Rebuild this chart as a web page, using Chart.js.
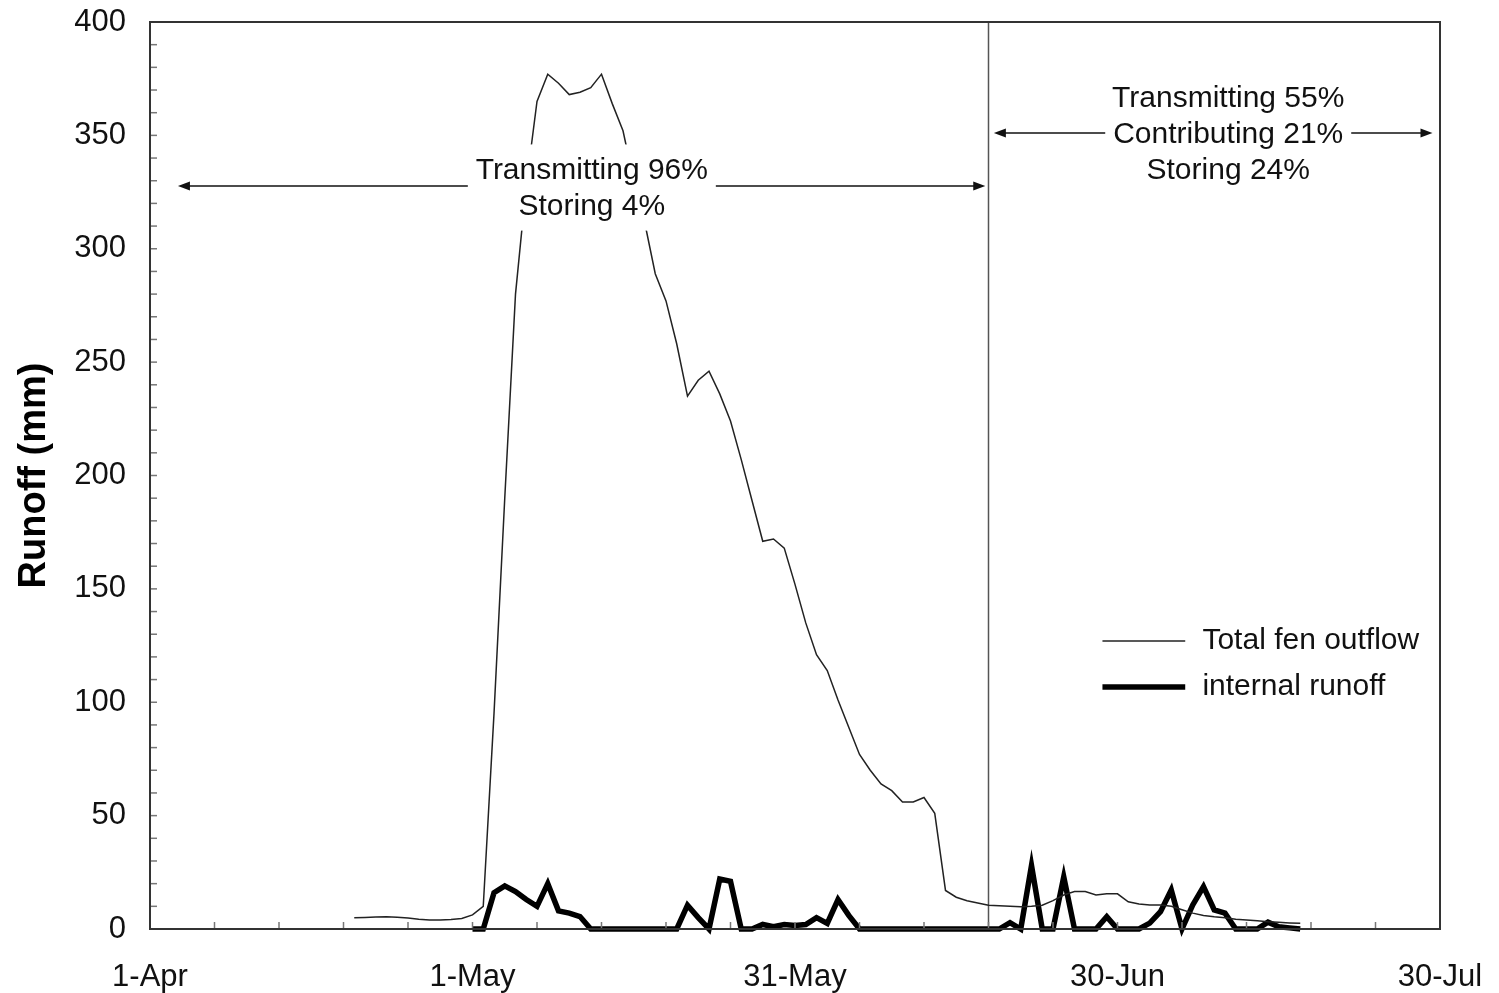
<!DOCTYPE html>
<html>
<head>
<meta charset="utf-8">
<script src="https://cdn.jsdelivr.net/npm/chart.js@4.4.1/dist/chart.umd.min.js"></script>
<style>
  html, body { margin: 0; padding: 0; background: #fff; }
  #wrap { width: 1499px; height: 993px; }
</style>
</head>
<body>
<div id="wrap"><canvas id="runoffChart" width="1499" height="993"></canvas></div>
<script>
// days counted from 1-Apr (day 0)
const axisDays = [0, 30, 60, 90, 120];
const axisLabels = ["1-Apr", "1-May", "31-May", "30-Jun", "30-Jul"];

// Total fen outflow, daily from day 19 (20-Apr) to day 107
const outflowStart = 19;
const outflow = [
  5.0, 5.1, 5.3, 5.4, 5.2, 4.8, 4.3, 4.0, 4.0, 4.2,
  4.6, 6.2, 10, 95, 190, 280, 328, 365, 377, 373,
  368, 369, 371, 377, 364, 352, 330, 312, 289, 277,
  258, 235, 242, 246, 236, 224, 207, 189, 171, 172,
  168, 152, 135, 121, 114, 101, 89, 77, 70, 64,
  61, 56, 56, 58, 51, 17, 14, 12.5, 11.5, 10.5,
  10.3, 10, 9.8, 10, 10.5, 12.5, 15, 16.5, 16.5, 15,
  15.5, 15.5, 12, 11, 10.6, 10.6, 10, 8.5, 7, 6,
  5.4, 5, 4.3, 4, 3.6, 3.2, 3, 2.7, 2.5,
];

// internal runoff, daily from day 30 (1-May) to day 107
const internalStart = 30;
const internal = [
  0, 0, 16, 19, 16.5, 13, 10, 20, 8, 7,
  5.5, 0, 0, 0, 0, 0, 0, 0, 0, 0,
  10.5, 5, 0, 22, 21, 0, 0, 2, 1, 2,
  1.5, 2, 5, 2.5, 13, 6, 0, 0, 0, 0,
  0, 0, 0, 0, 0, 0, 0, 0, 0, 0,
  2.8, 0, 28, 0, 0, 23, 0, 0, 0, 5.4,
  0, 0, 0, 2.6, 7.6, 17.2, 0, 10.6, 18.7, 8.4,
  7, 0, 0, 0, 3, 1, 0.5, 0,
];

const splitDay = 78; // 18-Jun

const leftNotes = ["Transmitting 96%", "Storing 4%"];
const rightNotes = ["Transmitting 55%", "Contributing 21%", "Storing 24%"];
const seriesNames = ["Total fen outflow", "internal runoff"];

const FONT = "'Liberation Sans', Arial, Helvetica, sans-serif";

const toPoints = (start, values) =>
  values.map((v, i) => ({ x: start + i, y: v }));

const annotationPlugin = {
  id: "fenAnnotations",
  beforeDatasetsDraw(chart) {
    const { ctx, chartArea, scales } = chart;
    const x = scales.x.getPixelForValue(splitDay);
    ctx.save();
    ctx.strokeStyle = "#555";
    ctx.lineWidth = 1.5;
    ctx.beginPath();
    ctx.moveTo(x, chartArea.top);
    ctx.lineTo(x, chartArea.bottom);
    ctx.stroke();
    ctx.restore();
  },
  afterDatasetsDraw(chart) {
    const { ctx, chartArea, scales } = chart;
    const xs = scales.x;
    const ys = scales.y;

    const arrow = (d0, d1, val) => {
      const x0 = xs.getPixelForValue(d0);
      const x1 = xs.getPixelForValue(d1);
      const y = ys.getPixelForValue(val);
      ctx.strokeStyle = "#111";
      ctx.fillStyle = "#111";
      ctx.lineWidth = 1.5;
      ctx.beginPath();
      ctx.moveTo(x0 + 8, y);
      ctx.lineTo(x1 - 8, y);
      ctx.stroke();
      [[x0, 1], [x1, -1]].forEach(([px, dir]) => {
        ctx.beginPath();
        ctx.moveTo(px, y);
        ctx.lineTo(px + dir * 12, y - 4.5);
        ctx.lineTo(px + dir * 12, y + 4.5);
        ctx.closePath();
        ctx.fill();
      });
    };

    const noteBox = (dayCenter, halfWidth, topVal, bottomVal, lines, firstVal) => {
      const cx = xs.getPixelForValue(dayCenter);
      const top = ys.getPixelForValue(topVal);
      const bottom = ys.getPixelForValue(bottomVal);
      ctx.fillStyle = "#fff";
      ctx.fillRect(cx - halfWidth, top, halfWidth * 2, bottom - top);
      ctx.fillStyle = "#111";
      ctx.font = `30px ${FONT}`;
      ctx.textAlign = "center";
      ctx.textBaseline = "middle";
      const y0 = ys.getPixelForValue(firstVal);
      lines.forEach((t, i) => ctx.fillText(t, cx, y0 + i * 36));
    };

    ctx.save();
    arrow(2.6, 77.7, 327.7);
    noteBox(41.1, 124, 346, 308, leftNotes, 334.3);
    arrow(78.5, 119.3, 351);
    noteBox(100.3, 123, 380, 320, rightNotes, 366);

    // legend inside the plot
    const lx0 = xs.getPixelForValue(88.6);
    const lx1 = xs.getPixelForValue(96.3);
    const tx = xs.getPixelForValue(97.9);
    [[127, 1.5, "#222"], [106.7, 5.5, "#000"]].forEach(([val, w, c], i) => {
      const y = ys.getPixelForValue(val);
      ctx.strokeStyle = c;
      ctx.lineWidth = w;
      ctx.beginPath();
      ctx.moveTo(lx0, y);
      ctx.lineTo(lx1, y);
      ctx.stroke();
      ctx.fillStyle = "#111";
      ctx.font = `30px ${FONT}`;
      ctx.textAlign = "left";
      ctx.textBaseline = "middle";
      ctx.fillText(seriesNames[i], tx, y);
    });

    // inner ticks
    ctx.strokeStyle = "#777";
    ctx.lineWidth = 1.5;
    for (let d = 6; d < 120; d += 6) {
      const px = xs.getPixelForValue(d);
      ctx.beginPath();
      ctx.moveTo(px, chartArea.bottom);
      ctx.lineTo(px, chartArea.bottom - 7);
      ctx.stroke();
    }
    for (let v = 10; v < 400; v += 10) {
      const py = ys.getPixelForValue(v);
      ctx.beginPath();
      ctx.moveTo(chartArea.left, py);
      ctx.lineTo(chartArea.left + 7, py);
      ctx.stroke();
    }

    // frame
    ctx.strokeStyle = "#333";
    ctx.lineWidth = 2;
    ctx.strokeRect(
      chartArea.left,
      chartArea.top,
      chartArea.right - chartArea.left,
      chartArea.bottom - chartArea.top,
    );
    ctx.restore();
  },
};

const bgPlugin = {
  id: "whiteBg",
  beforeDraw(chart) {
    const { ctx } = chart;
    ctx.save();
    ctx.fillStyle = "#fff";
    ctx.fillRect(0, 0, chart.width, chart.height);
    ctx.restore();
  },
};

new Chart(document.getElementById("runoffChart").getContext("2d"), {
  type: "line",
  data: {
    datasets: [
      {
        label: seriesNames[0],
        data: toPoints(outflowStart, outflow),
        borderColor: "#222",
        borderWidth: 1.5,
        pointRadius: 0,
        tension: 0,
        fill: false,
      },
      {
        label: seriesNames[1],
        data: toPoints(internalStart, internal),
        borderColor: "#000",
        borderWidth: 5.5,
        borderJoinStyle: "miter",
        pointRadius: 0,
        tension: 0,
        fill: false,
        clip: false,
      },
    ],
  },
  options: {
    responsive: false,
    animation: false,
    layout: { padding: { left: 0, right: 59, top: 22, bottom: 0 } },
    plugins: {
      legend: { display: false },
      tooltip: { enabled: false },
    },
    scales: {
      x: {
        type: "linear",
        min: 0,
        max: 120,
        afterBuildTicks: (scale) => {
          scale.ticks = axisDays.map((d) => ({ value: d }));
        },
        afterFit: (scale) => {
          scale.height = 64;
          scale.paddingLeft = 0;
          scale.paddingRight = 0;
        },
        ticks: {
          color: "#111",
          font: { family: FONT, size: 31 },
          padding: 30,
          maxRotation: 0,
          autoSkip: false,
          callback: (value) => axisLabels[axisDays.indexOf(value)],
        },
        grid: { display: false, drawTicks: false },
        border: { display: false },
      },
      y: {
        min: 0,
        max: 400,
        afterFit: (scale) => {
          scale.width = 150;
          scale.paddingTop = 0;
          scale.paddingBottom = 0;
        },
        ticks: {
          stepSize: 50,
          color: "#111",
          font: { family: FONT, size: 31 },
          padding: 24,
        },
        grid: { display: false, drawTicks: false },
        border: { display: false },
        title: {
          display: true,
          text: "Runoff (mm)",
          color: "#000",
          font: { family: FONT, size: 38, weight: "bold" },
          padding: { top: 12, bottom: 0 },
        },
      },
    },
  },
  plugins: [bgPlugin, annotationPlugin],
});
</script>
</body>
</html>
